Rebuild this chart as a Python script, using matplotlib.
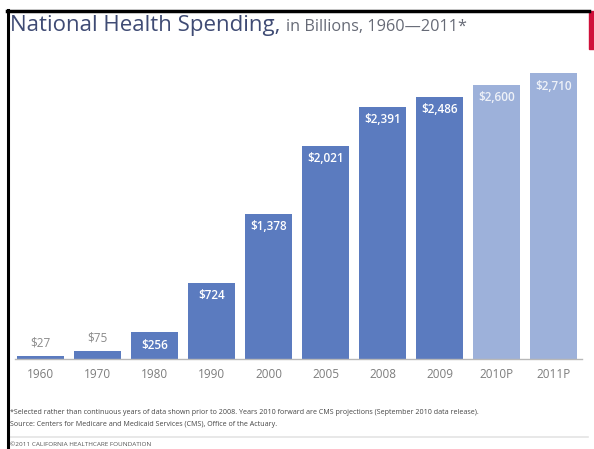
import matplotlib
matplotlib.use("Agg")
import matplotlib.pyplot as plt
from matplotlib.patches import Rectangle
from matplotlib.lines import Line2D

plt.rcParams['font.family'] = ['Open Sans', 'DejaVu Sans']

categories = ["1960", "1970", "1980", "1990", "2000", "2005", "2008", "2009", "2010P", "2011P"]
values = [27, 75, 256, 724, 1378, 2021, 2391, 2486, 2600, 2710]
labels = ["$27", "$75", "$256", "$724", "$1,378", "$2,021", "$2,391", "$2,486", "$2,600", "$2,710"]
projected = [False] * 8 + [True, True]

W, H = 594, 449
fig = plt.figure(figsize=(W / 100, H / 100), dpi=100)

def fx(px):
    return px / W

def fy(py):
    return 1 - py / H

# axes: x pixels 15..582, baseline y=359, top y=60
ax = fig.add_axes([fx(15), fy(359), (582 - 15) / W, (359 - 60) / H])
x = list(range(len(categories)))
dark = "#5b7bbf"
light = "#9db1da"
colors = [light if p else dark for p in projected]
ax.bar(x, values, width=0.82, color=colors, edgecolor="none")
ax.set_xlim(-0.447, 9.5)
ax.set_ylim(0, 2834)
for s in ["top", "right", "left"]:
    ax.spines[s].set_visible(False)
ax.spines["bottom"].set_color("#b8b8b8")
ax.spines["bottom"].set_linewidth(1.0)
ax.set_yticks([])
ax.set_xticks(x)
ax.set_xticklabels(categories, fontsize=8.5, color="#7d7d7d")
ax.tick_params(axis="x", length=0, pad=6.5)

for xi, v, lab, p in zip(x, values, labels, projected):
    if v < 200:
        ax.annotate(lab, (xi, v), xytext=(0, 4.5), textcoords="offset points",
                    ha="center", va="bottom", fontsize=8.5, color="#8a8a8a")
    else:
        ax.annotate(lab, (xi, v), xytext=(0, -9.5), textcoords="offset points",
                    ha="center", va="center", fontsize=8.5, color="#eef1f8" if p else "white",
                    fontweight="semibold")

# title
t1 = fig.text(fx(10), fy(31), "National Health Spending,", fontsize=16, color="#3f4b74",
              ha="left", va="baseline")
fig.canvas.draw()
bb = t1.get_window_extent()
fig.text(bb.x1 / W + fx(6), fy(31), "in Billions, 1960\u20142011*", fontsize=11.7,
         color="#666a76", ha="left", va="baseline")

# footnotes
fig.text(fx(10), fy(412), "*Selected rather than continuous years of data shown prior to 2008. Years 2010 forward are CMS projections (September 2010 data release).",
         fontsize=5.1, color="#444444", ha="left", va="center")
fig.text(fx(10), fy(424), "Source: Centers for Medicare and Medicaid Services (CMS), Office of the Actuary.",
         fontsize=5.1, color="#444444", ha="left", va="center")
fig.add_artist(Line2D([fx(10), fx(588)], [fy(437), fy(437)], color="#e4e4e4", lw=1.2))
fig.text(fx(10), fy(444.5), "\u00a92011 CALIFORNIA HEALTHCARE FOUNDATION",
         fontsize=4.6, color="#555555", ha="left", va="center")

# frame lines
fig.add_artist(Line2D([fx(7), fx(589)], [fy(10.5), fy(10.5)], color="black", lw=2.5))
fig.add_artist(Line2D([fx(8), fx(8)], [fy(10), fy(449)], color="black", lw=2.2))
fig.add_artist(Rectangle((fx(589), fy(49)), fx(5), (49 - 11) / H, color="#d0103a",
                         transform=fig.transFigure))

fig.savefig("out.png", dpi=100)
